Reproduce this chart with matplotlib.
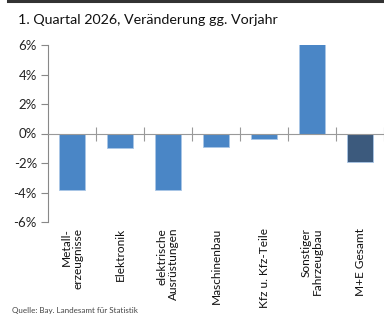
import matplotlib
matplotlib.use("Agg")
import matplotlib.pyplot as plt
from matplotlib.lines import Line2D

categories = ["Metall-\nerzeugnisse", "Elektronik", "elektrische\nAusrüstungen",
              "Maschinenbau", "Kfz u. Kfz-Teile", "Sonstiger\nFahrzeugbau", "M+E Gesamt"]
values = [-3.8, -1.0, -3.8, -0.9, -0.4, 6.1, -1.9]
colors = ["#4A86C6"] * 6 + ["#3C5A7D"]
yticks = [-6, -4, -2, 0, 2, 4, 6]
ytick_labels = ["-6%", "-4%", "-2%", "0%", "2%", "4%", "6%"]
title = "1. Quartal 2026, Veränderung gg. Vorjahr"
source = "Quelle: Bay. Landesamt für Statistik"

plt.rcParams['font.family'] = ['Lato', 'DejaVu Sans']

W, H = 384, 315
fig = plt.figure(figsize=(W / 100, H / 100), dpi=100)
ax = fig.add_axes([48 / W, 1 - 222 / H, (384 - 48) / W, (222 - 45) / H])

x = list(range(len(categories)))
ax.bar(x, values, width=0.56, color=colors, edgecolor="#A9C6E6", linewidth=0.6, zorder=2)

ax.set_xlim(-0.5, len(categories) - 0.5)
ax.set_ylim(-6, 6)
ax.set_yticks(yticks)
ax.set_yticklabels(ytick_labels, fontsize=9.5, color="#222222")
ax.tick_params(axis="y", direction="out", length=5, width=0.8, color="#888888", pad=3)

for s in ["top", "right"]:
    ax.spines[s].set_visible(False)
ax.spines["left"].set_color("#888888")
ax.spines["left"].set_linewidth(0.8)
ax.spines["bottom"].set_position(("data", 0))
ax.spines["bottom"].set_color("#999999")
ax.spines["bottom"].set_linewidth(0.8)

# category boundaries as minor ticks crossing the zero line
ax.set_xticks([i + 0.5 for i in x], minor=True)
ax.tick_params(axis="x", which="minor", direction="inout", length=10, width=0.8, color="#999999")
ax.set_xticks(x)
ax.set_xticklabels(categories, rotation=90, fontsize=8.6, color="#111111",
                   va="top", ha="center", multialignment="right", linespacing=1.0)
ax.tick_params(axis="x", which="major", length=0, pad=68)

fig.text(18 / W, 1 - 20 / H, title, fontsize=10.3, color="#111111", va="center", ha="left")
fig.text(12 / W, 1 - 310 / H, source, fontsize=5.8, color="#444444", va="center", ha="left")
fig.add_artist(Line2D([8 / W, 1.0], [1 - 1 / H, 1 - 1 / H], transform=fig.transFigure,
                      color="#333333", linewidth=2.2))

fig.savefig("out.png", dpi=100)
